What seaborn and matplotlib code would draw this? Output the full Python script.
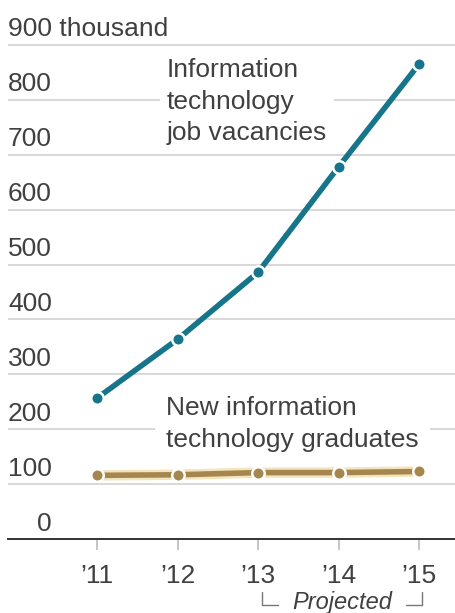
import matplotlib
matplotlib.use("Agg")
import matplotlib.pyplot as plt
import matplotlib.transforms as mtransforms
import pandas as pd
import seaborn as sns

# Data (thousands)
years = [2011, 2012, 2013, 2014, 2015]
year_labels = ["\u201911", "\u201912", "\u201913", "\u201914", "\u201915"]
vacancies = [257, 364, 486, 678, 865]
graduates = [116, 117, 121, 121, 123]
y_ticks = [0, 100, 200, 300, 400, 500, 600, 700, 800, 900]
y_tick_labels = ["0", "100", "200", "300", "400", "500", "600", "700", "800", "900 thousand"]

teal = "#16758b"
gold = "#a5864f"
text_color = "#404040"

sns.set_theme(style="white")
plt.rcParams["font.family"] = ["Liberation Sans", "DejaVu Sans"]

df = pd.DataFrame(
    {
        "year": years * 2,
        "value": vacancies + graduates,
        "series": ["vacancies"] * len(years) + ["graduates"] * len(years),
    }
)

fig = plt.figure(figsize=(4.56, 6.13), dpi=100)
ax = fig.add_axes([8 / 456, 74 / 613, 448 / 456, 539 / 613])

# soft halo under the graduates line
sns.lineplot(x=years, y=graduates, color="#f4e4bc", linewidth=7.5, ax=ax, zorder=4)

sns.lineplot(
    data=df,
    x="year",
    y="value",
    hue="series",
    palette={"vacancies": teal, "graduates": gold},
    marker="o",
    markersize=9,
    markeredgecolor="white",
    markeredgewidth=1.8,
    linewidth=4,
    legend=False,
    ax=ax,
    zorder=5,
)

ax.set_xlim(2009.89, 2015.46)
ax.set_ylim(0, 982)

# gridlines
ax.set_yticks(y_ticks[1:])
ax.yaxis.grid(True, color="#d2d2d2", linewidth=1.2)
ax.tick_params(axis="y", left=False, labelleft=False)
ax.set_axisbelow(True)

for side in ["top", "right", "left"]:
    ax.spines[side].set_visible(False)
ax.spines["bottom"].set_color("#333333")
ax.spines["bottom"].set_linewidth(1.4)

# y labels sit just above the gridlines
for v, lab in zip(y_ticks, y_tick_labels):
    if lab == "900 thousand":
        ax.annotate(lab, xy=(0, v), xycoords=("axes fraction", "data"),
                    xytext=(0, 3), textcoords="offset points",
                    ha="left", va="bottom", fontsize=19, color=text_color)
    else:
        ax.annotate(lab, xy=(44 / 448, v), xycoords=("axes fraction", "data"),
                    xytext=(0, 2.5), textcoords="offset points",
                    ha="right", va="bottom", fontsize=19, color=text_color)

ax.set_xticks(years)
ax.set_xticklabels(year_labels, fontsize=19, color=text_color)
ax.tick_params(axis="x", bottom=True, length=8, width=1.2, color="#bbbbbb", pad=10)
ax.set_xlabel("")
ax.set_ylabel("")

# series labels
ax.text(2011.86, 876, "Information\ntechnology\njob vacancies", fontsize=19,
        color=text_color, ha="left", va="top", linespacing=1.4, zorder=3,
        bbox=dict(facecolor="white", edgecolor="none", pad=5))
ax.text(2011.86, 260, "New information\ntechnology graduates", fontsize=19,
        color=text_color, ha="left", va="top", linespacing=1.4, zorder=3,
        bbox=dict(facecolor="white", edgecolor="none", pad=8))

# "Projected" bracket below the x axis
trans = mtransforms.blended_transform_factory(ax.transData, ax.transAxes)
y_top = -53 / 539
y_bot = -66 / 539
x0 = years[2] + 0.05
x1 = years[4] + 0.04
ax.plot([x0, x0, x0 + 0.2], [y_top, y_bot, y_bot], transform=trans,
        color="#777777", linewidth=1, clip_on=False)
ax.plot([x1 - 0.2, x1, x1], [y_bot, y_bot, y_top], transform=trans,
        color="#777777", linewidth=1, clip_on=False)
ax.text((x0 + x1) / 2, -63 / 539, "Projected", transform=trans, ha="center",
        va="center", fontsize=17, style="italic", color=text_color)

fig.savefig("out.png", dpi=100, facecolor="white")
